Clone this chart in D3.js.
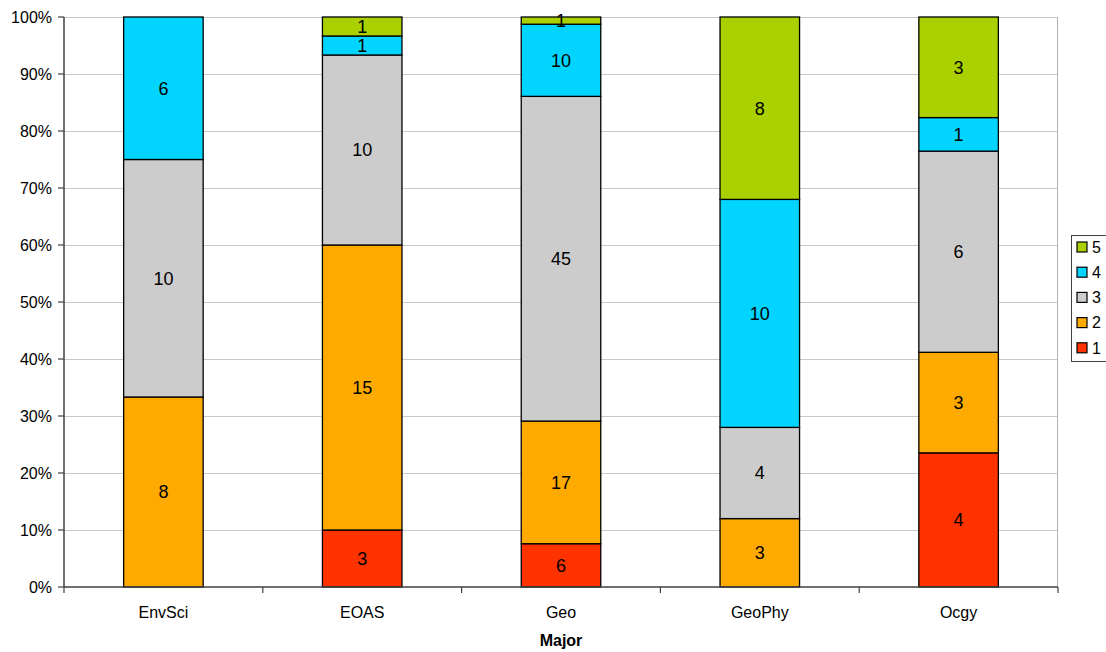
<!DOCTYPE html>
<html><head><meta charset="utf-8">
<script src="https://cdn.jsdelivr.net/npm/d3@7"></script>
<style>body{margin:0;background:#fff}text{font-family:"Liberation Sans",Arial,sans-serif}</style>
</head><body><svg id="c" width="1106" height="652"></svg>
<script>
const categories = ["EnvSci","EOAS","Geo","GeoPhy","Ocgy"];
const seriesNames = ["1","2","3","4","5"];
const s1 = [0,3,6,0,4];
const s2 = [8,15,17,3,3];
const s3 = [10,10,45,4,6];
const s4 = [6,1,10,10,1];
const s5 = [0,1,1,8,3];
const colors = ["#FF3300","#FFAA00","#CCCCCC","#00D4FF","#AAD000"];
const yTicks = [0,0.1,0.2,0.3,0.4,0.5,0.6,0.7,0.8,0.9,1];

const series = [s1,s2,s3,s4,s5];
const svg = d3.select("#c");
const L=64,R=1058,T=17,B=587;
const x = d3.scaleBand().domain(categories).range([L,R]).paddingInner(0.6).paddingOuter(0.3);
const xb = d3.scaleBand().domain(categories).range([L,R]);
const y = d3.scaleLinear().domain([0,1]).range([B,T]);

// gridlines
svg.append("g").selectAll("line").data(yTicks.slice(1)).join("line")
  .attr("x1",L).attr("x2",R).attr("y1",d=>y(d)).attr("y2",d=>y(d))
  .attr("stroke","#c8c8c8").attr("stroke-width",1).attr("shape-rendering","crispEdges");
svg.append("line").attr("x1",R-0.5).attr("x2",R-0.5).attr("y1",T).attr("y2",B)
  .attr("stroke","#b0b0b0").attr("shape-rendering","crispEdges");

const rows = categories.map((c,i)=>{const o={cat:c};seriesNames.forEach((s,j)=>o[s]=series[j][i]);return o;});
const stack = d3.stack().keys(seriesNames).offset(d3.stackOffsetExpand)(rows);

const g = svg.append("g");
stack.forEach((layer,j)=>{
  layer.forEach((d,i)=>{
    const v = series[j][i];
    if(!v) return;
    const x0 = x(categories[i]);
    g.append("rect").attr("x",x0).attr("width",x.bandwidth())
      .attr("y",y(d[1])).attr("height",y(d[0])-y(d[1]))
      .attr("fill",colors[j]).attr("stroke","#000").attr("stroke-width",1.3);
  });
});
stack.forEach((layer,j)=>{
  layer.forEach((d,i)=>{
    const v = series[j][i];
    if(!v) return;
    g.append("text").attr("x",x(categories[i])+x.bandwidth()/2)
      .attr("y",(y(d[0])+y(d[1]))/2).attr("dy","0.36em")
      .attr("text-anchor","middle").attr("font-size",18).attr("fill","#000").text(v);
  });
});

// y axis
const ya = svg.append("g");
ya.append("line").attr("x1",L).attr("x2",L).attr("y1",T).attr("y2",B).attr("stroke","#404040").attr("stroke-width",1.5);
ya.selectAll("line.t").data(yTicks).join("line").attr("class","t")
  .attr("x1",L-6).attr("x2",L).attr("y1",d=>y(d)).attr("y2",d=>y(d)).attr("stroke","#404040").attr("stroke-width",1.2);
ya.selectAll("text").data(yTicks).join("text")
  .attr("x",L-12).attr("y",d=>y(d)).attr("dy","0.36em").attr("text-anchor","end")
  .attr("font-size",16).attr("fill","#000").text(d=>d3.format(".0%")(d));

// x axis
const xa = svg.append("g");
xa.append("line").attr("x1",L).attr("x2",R).attr("y1",B).attr("y2",B).attr("stroke","#404040").attr("stroke-width",1.5);
const bounds = categories.map(c=>xb(c)).concat([R]);
xa.selectAll("line.t").data(bounds).join("line").attr("class","t")
  .attr("x1",d=>d).attr("x2",d=>d).attr("y1",B).attr("y2",B+6).attr("stroke","#404040").attr("stroke-width",1.2);
xa.selectAll("text").data(categories).join("text")
  .attr("x",d=>xb(d)+xb.bandwidth()/2).attr("y",B+31).attr("text-anchor","middle")
  .attr("font-size",16).attr("fill","#000").text(d=>d);
svg.append("text").attr("x",(L+R)/2).attr("y",646).attr("text-anchor","middle")
  .attr("font-size",16).attr("font-weight","bold").text("Major");

// legend
const lg = svg.append("g");
lg.append("rect").attr("x",1071.5).attr("y",235.5).attr("width",60).attr("height",126)
  .attr("fill","#fff").attr("stroke","#404040").attr("stroke-width",1);
const order = seriesNames.slice().reverse();
order.forEach((s,k)=>{
  const idx = seriesNames.indexOf(s);
  const cy = 247 + k*25.2;
  lg.append("rect").attr("x",1077).attr("y",cy-5).attr("width",10).attr("height",10)
    .attr("fill",colors[idx]).attr("stroke","#000").attr("stroke-width",1.2);
  lg.append("text").attr("x",1092).attr("y",cy).attr("dy","0.36em").attr("font-size",16).text(s);
});
</script></body></html>
